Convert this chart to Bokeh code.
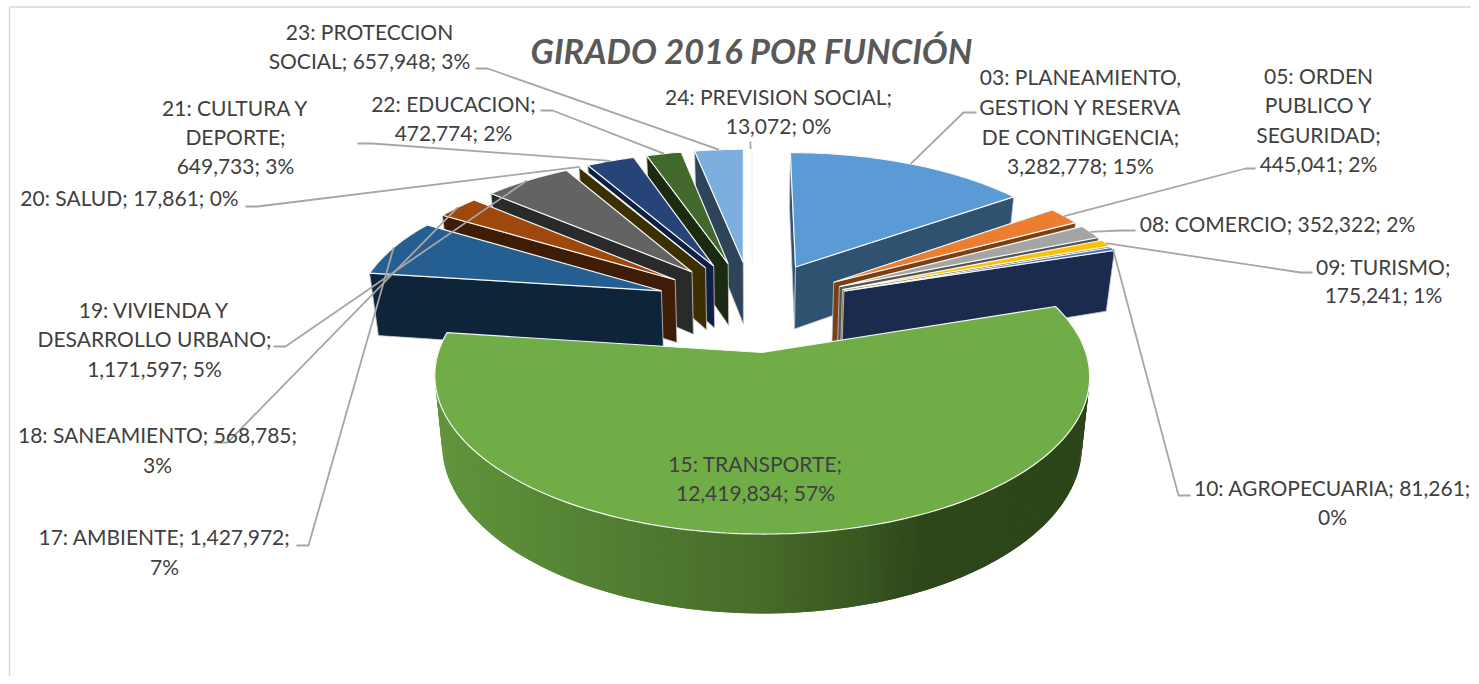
import math
from bokeh.plotting import figure
from bokeh.models import ColumnDataSource, Range1d
from bokeh.core.properties import value
from bokeh.embed import file_html
from bokeh.resources import INLINE

# ---------- data ----------
title_text = "GIRADO 2016 POR FUNCIÓN"
categories = ["03: PLANEAMIENTO,|GESTION Y RESERVA|DE CONTINGENCIA", "05: ORDEN|PUBLICO Y|SEGURIDAD",
              "08: COMERCIO", "09: TURISMO", "10: AGROPECUARIA", "15: TRANSPORTE", "17: AMBIENTE",
              "18: SANEAMIENTO", "19: VIVIENDA Y|DESARROLLO URBANO", "20: SALUD", "21: CULTURA Y|DEPORTE",
              "22: EDUCACION", "23: PROTECCION|SOCIAL", "24: PREVISION SOCIAL"]
values = [3282778, 445041, 352322, 175241, 81261, 12419834, 1427972,
          568785, 1171597, 17861, 649733, 472774, 657948, 13072]

# ---------- styles ----------
top_colors = ["#5B9BD5", "#ED7D31", "#A5A5A5", "#FFC000", "#4472C4", "#70AD47", "#255E91",
              "#9E480E", "#636363", "#997300", "#264478", "#43682B", "#7CAFDD", "#FBFBFB"]
side_colors = ["#2E5270", "#7C3F13", "#555555", "#7F6000", "#1A2B4E", "#2C4519", "#0E2439",
               "#3F1C05", "#2A2A2A", "#3D3000", "#0F1F45", "#1B2A10", "#2E4459", "#FAFAFA"]
label_breaks = [(";|", "; "), (";|", "; "), ("; ", "; "), (";|", "; "), ("; ", ";|"), (";|", "; "), ("; ", ";|"),
                ("; ", ";|"), (";|", "; "), ("; ", "; "), (";|", "; "), (";|", "; "), ("; ", "; "), (";|", "; ")]
# layout of the label blocks: centre x, y of each line
label_pos = [(1080, [76, 106, 136, 165]), (1318, [75, 104, 134, 163]), (1277, [223]), (1383, [266, 294]),
             (1332, [487, 516]), (755, [463, 492]), (164, [536, 566]), (157, [434, 464]),
             (154, [309, 338, 368]), (129, [197]), (235, [107, 136, 165]), (453, [103, 132]),
             (369, [31, 60]), (778, [96, 125])]
# leader polyline from the label to the slice rim (the rim end is computed)
leader_start = [[(976, 112), (963, 112)], [(1255, 168), (1245, 168)], [(1135, 230), (1120, 230)],
                [(1312, 272), (1300, 272)], [(1190, 495), (1178, 495)], [], [(296, 545), (308, 545)],
                [(213, 442), (227, 442)], [(273, 346), (285, 346)], [(245, 206), (257, 206)],
                [(357, 143), (372, 143)], [(540, 110), (552, 110)], [(475, 68), (487, 68)], [(750, 141)]]

FONT = "Lato"
TEXT_COLOR = "#404040"
FS = "21px"
CX, CY, R, E, D, KY, H, SHRINK, FRONT_X = 752.0, 305.0, 306.0, 98.0, 2150.0, 0.46, 64.5, 0.023, 1.010

total = sum(values)
starts, ends, a = [], [], 0.0
for v in values:
    starts.append(a)
    a += v / total * 2 * math.pi
    ends.append(a)
mids = [(s + e) / 2 for s, e in zip(starts, ends)]


def project(i, theta, r=R, depth=0.0):
    m = mids[i]
    fx = FRONT_X if math.cos(m) < 0 else 1.0
    X = E * math.sin(m) + fx * r * math.sin(theta)
    Z = -E * math.cos(m) - r * math.cos(theta)
    s = 1 / (1 - Z / D)
    return CX + X * s * (1 - SHRINK * depth), CY + KY * Z * s + H * s * depth


def arc(i, t0, t1, n_per_rad=40):
    n = max(2, int(abs(t1 - t0) * n_per_rad))
    return [t0 + (t1 - t0) * k / n for k in range(n + 1)]


def lerp_color(stops, x):
    if x <= stops[0][0]:
        c = stops[0][1]
    elif x >= stops[-1][0]:
        c = stops[-1][1]
    else:
        for (x0, c0), (x1, c1) in zip(stops, stops[1:]):
            if x0 <= x <= x1:
                f = (x - x0) / (x1 - x0)
                c = tuple(c0[j] + (c1[j] - c0[j]) * f for j in range(3))
                break
    return "#%02x%02x%02x" % tuple(int(round(q)) for q in c)


grad = [(440, (0x60, 0x94, 0x3C)), (600, (0x53, 0x80, 0x33)), (760, (0x47, 0x6C, 0x2A)),
        (860, (0x39, 0x58, 0x21)), (925, (0x2D, 0x47, 0x1A)), (1090, (0x2C, 0x45, 0x19))]

W, HT = 1471, 676
p = figure(width=W, height=HT, output_backend="svg", toolbar_location=None,
           x_range=Range1d(0, W), y_range=Range1d(HT, 0), min_border=0)
p.axis.visible = False
p.grid.visible = False
p.outline_line_color = None
p.background_fill_color = "white"
p.border_fill_color = "white"

# chart frame
p.line([9, 9, W], [HT, 6.5, 6.5], line_color="#D9D9D9", line_width=1.5)

order = sorted(range(len(values)), key=lambda i: -math.cos(mids[i]))
for i in order:
    # radial faces that look towards the viewer
    for theta, visible in ((starts[i], math.sin(starts[i]) <= 0.001), (ends[i], math.sin(ends[i]) > 0)):
        if visible and math.cos(mids[i]) > -0.5:
            ax, ay = project(i, theta, 0)
            bx, by = project(i, theta)
            cx, cy = project(i, theta, R, 1)
            dx, dy = project(i, theta, 0, 1)
            edge = "#FAFAFA" if i == len(values) - 1 else "#C8CCD0"
            p.patch([ax, bx, cx, dx], [ay, by, cy, dy], fill_color=side_colors[i],
                    line_color=edge, line_width=0.8)
    # outer rim, shaded piece by piece; each piece overlaps the next so no seams show
    ts = [t for t in arc(i, starts[i], ends[i], 60) if math.cos(t) < 0.05]
    if len(ts) > 2:
        xs, ys, cs = [], [], []
        for k in range(len(ts) - 1):
            t0, t1 = ts[k], ts[min(k + 2, len(ts) - 1)]
            a0, a1 = project(i, t0), project(i, t1)
            b1, b0 = project(i, t1, R, 1), project(i, t0, R, 1)
            xs.append([a0[0], a1[0], b1[0], b0[0]])
            ys.append([a0[1], a1[1], b1[1], b0[1]])
            cs.append(lerp_color(grad, a0[0]))
        p.patches(xs, ys, fill_color=cs, line_color=None)
    # top face
    pts = [project(i, starts[i], 0)] + [project(i, t) for t in arc(i, starts[i], ends[i], 60)]
    p.patch([q[0] for q in pts], [q[1] for q in pts], fill_color=top_colors[i],
            line_color="#F6F8F6", line_width=1.2)

# leaders
for i, start in enumerate(leader_start):
    if not start:
        continue
    end = project(i, mids[i])
    if len(start) == 1:
        end = (start[0][0], end[1])
    pts = start + [end]
    p.line([q[0] for q in pts], [q[1] for q in pts], line_color="#A6A6A6", line_width=1.8)

# labels
tx, ty, tt = [], [], []
for i, (cat, v) in enumerate(zip(categories, values)):
    s1, s2 = label_breaks[i]
    text = f"{cat}{s1}{v:,}{s2}{round(v / total * 100)}%"
    lx, lys = label_pos[i]
    for line, ly in zip(text.split("|"), lys):
        tx.append(lx)
        ty.append(ly)
        tt.append(line)
src = ColumnDataSource(dict(x=tx, y=ty, t=tt))
p.text("x", "y", "t", source=src, text_font=value(FONT), text_font_size=FS, text_color=TEXT_COLOR,
       text_align="center", text_baseline="middle")
p.text([751], [50], [title_text], text_font=value(FONT), text_font_size="34.4px", text_font_style="bold italic",
       text_color="#595959", text_align="center", text_baseline="middle")

open("out.html", "w").write(file_html(p, INLINE))
